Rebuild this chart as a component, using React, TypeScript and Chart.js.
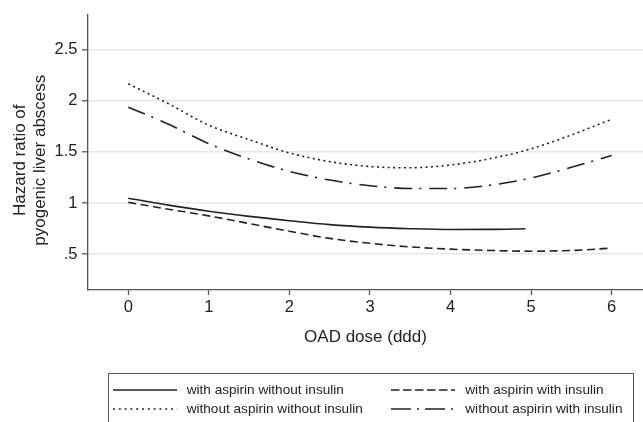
import React, { useEffect, useRef } from 'react';
import { Chart, registerables } from 'chart.js';

Chart.register(...registerables);

// ---- data ----
const doses = [0, 0.5, 1, 1.5, 2, 2.5, 3, 3.5, 4, 4.5, 5, 5.5, 6];
const solidDoses = [0, 0.5, 1, 1.5, 2, 2.5, 3, 3.5, 4, 4.5, 4.93];
const withAspirinWithoutInsulin = [1.048, 0.98, 0.92, 0.87, 0.828, 0.79, 0.765, 0.75, 0.742, 0.743, 0.75];
const withAspirinWithInsulin = [1.007, 0.94, 0.875, 0.8, 0.725, 0.655, 0.607, 0.572, 0.55, 0.537, 0.53, 0.537, 0.56];
const withoutAspirinWithoutInsulin = [2.165, 1.97, 1.76, 1.62, 1.49, 1.405, 1.357, 1.345, 1.372, 1.435, 1.53, 1.665, 1.818];
const withoutAspirinWithInsulin = [1.937, 1.77, 1.58, 1.43, 1.31, 1.225, 1.17, 1.143, 1.142, 1.175, 1.245, 1.35, 1.465];

const seriesLabels = [
  'with aspirin without insulin',
  'with aspirin with insulin',
  'without aspirin without insulin',
  'without aspirin with insulin',
];
const xTicks = [0, 1, 2, 3, 4, 5, 6];
const yTicks = [0.5, 1, 1.5, 2, 2.5];
const yTickLabels = ['.5', '1', '1.5', '2', '2.5'];
const xTitle = 'OAD dose (ddd)';
const yTitleLines = ['Hazard ratio of', 'pyogenic liver abscess'];

const FONT = "'Liberation Sans', Arial, Helvetica, sans-serif";
const INK = '#222222';
const AXIS = '#555555';

const dashes = {
  solid: [] as number[],
  dashed: [8, 4.5],
  dotted: [2, 3.4],
  dashdot: [18, 7, 2, 8],
};
const legendDashes = [dashes.solid, [8.5, 3.5], [2, 3.8], [20, 6, 2, 6]];

const pts = (xs: number[], ys: number[]) => xs.map((x, i) => ({ x, y: ys[i] }));

const yTitlePlugin = {
  id: 'yTitle',
  afterDraw(chart: any) {
    const { ctx, chartArea } = chart;
    const cy = (chartArea.top + chartArea.bottom) / 2 + 8;
    ctx.save();
    ctx.font = `17px ${FONT}`;
    ctx.fillStyle = INK;
    ctx.textAlign = 'center';
    ctx.textBaseline = 'middle';
    yTitleLines.forEach((line, i) => {
      ctx.save();
      ctx.translate(20.5 + i * 20, cy);
      ctx.rotate(-Math.PI / 2);
      ctx.fillText(line, 0, 0);
      ctx.restore();
    });
    ctx.restore();
  },
};

function LegendLine({ dash }: { dash: number[] }) {
  return (
    <svg width={64} height={4} style={{ display: 'block' }}>
      <line x1={0} y1={2} x2={64} y2={2} stroke={INK} strokeWidth={1.5}
        strokeDasharray={dash.length ? dash.join(' ') : undefined} />
    </svg>
  );
}

export default function App() {
  const canvasRef = useRef<HTMLCanvasElement | null>(null);

  useEffect(() => {
    const canvas = canvasRef.current;
    if (!canvas) return;
    const base = {
      borderColor: INK,
      borderWidth: 1.6,
      pointRadius: 0,
      fill: false,
      cubicInterpolationMode: 'monotone' as const,
    };
    const chart = new Chart(canvas, {
      type: 'line',
      data: {
        datasets: [
          { ...base, label: seriesLabels[0], data: pts(solidDoses, withAspirinWithoutInsulin), borderDash: dashes.solid },
          { ...base, label: seriesLabels[1], data: pts(doses, withAspirinWithInsulin), borderDash: dashes.dashed },
          { ...base, label: seriesLabels[2], data: pts(doses, withoutAspirinWithoutInsulin), borderDash: dashes.dotted },
          { ...base, label: seriesLabels[3], data: pts(doses, withoutAspirinWithInsulin), borderDash: dashes.dashdot },
        ],
      },
      options: {
        responsive: false,
        animation: false,
        layout: { padding: { top: 10, left: 0, right: 0, bottom: 72 } },
        plugins: { legend: { display: false }, tooltip: { enabled: false }, title: { display: false } },
        scales: {
          x: {
            type: 'linear',
            min: -0.5,
            max: 6.389,
            afterBuildTicks: (axis: any) => { axis.ticks = xTicks.map((v) => ({ value: v })); },
            afterFit: (scale: any) => { scale.height = 60; },
            grid: { drawOnChartArea: false, drawTicks: true, tickLength: 5, tickColor: AXIS, tickWidth: 1.3 },
            border: { display: true, color: AXIS, width: 1.3 },
            ticks: { color: INK, font: { family: FONT, size: 16.5 }, padding: 3, maxRotation: 0, callback: (v: any) => String(v) },
            title: { display: true, text: xTitle, color: INK, font: { family: FONT, size: 17 }, padding: { top: 0, bottom: 2 } },
          },
          y: {
            type: 'linear',
            min: 0.151,
            max: 2.843,
            afterBuildTicks: (axis: any) => { axis.ticks = yTicks.map((v) => ({ value: v })); },
            afterFit: (scale: any) => { scale.width = 88; },
            grid: { color: '#e8e8e8', lineWidth: 1.6, drawTicks: true, tickLength: 6, tickColor: AXIS, tickWidth: 1.3 },
            border: { display: true, color: AXIS, width: 1.3 },
            ticks: {
              color: INK,
              font: { family: FONT, size: 16.5 },
              padding: 4.5,
              callback: (v: any) => {
                const i = yTicks.indexOf(Number(v));
                return i >= 0 ? yTickLabels[i] : '';
              },
            },
            title: { display: false },
          },
        },
      },
      plugins: [yTitlePlugin],
    });
    return () => chart.destroy();
  }, []);

  const rows = [390, 408.7];
  const cols = [{ line: 113.3, text: 186.7 }, { line: 391.3, text: 465.3 }];
  const order = [[0, 1], [2, 3]];

  return (
    <div style={{ position: 'absolute', left: 0, top: 0, width: 643, height: 422, overflow: 'hidden', background: '#fff' }}>
      <canvas ref={canvasRef} width={643} height={422} style={{ position: 'absolute', left: 0, top: 0, width: 643, height: 422 }} />
      <div style={{
        position: 'absolute', left: 107.5, top: 373, width: 526, height: 49,
        border: `1px solid ${AXIS}`, borderBottom: 'none', boxSizing: 'border-box',
      }} />
      {order.map((row, ri) => row.map((si, ci) => (
        <React.Fragment key={si}>
          <div style={{ position: 'absolute', left: cols[ci].line, top: rows[ri] - 2 }}>
            <LegendLine dash={legendDashes[si]} />
          </div>
          <div style={{
            position: 'absolute', left: cols[ci].text, top: rows[ri] - 9, height: 18, lineHeight: '18px',
            fontFamily: FONT, fontSize: 13.6, color: INK, whiteSpace: 'nowrap',
          }}>{seriesLabels[si]}</div>
        </React.Fragment>
      )))}
    </div>
  );
}
